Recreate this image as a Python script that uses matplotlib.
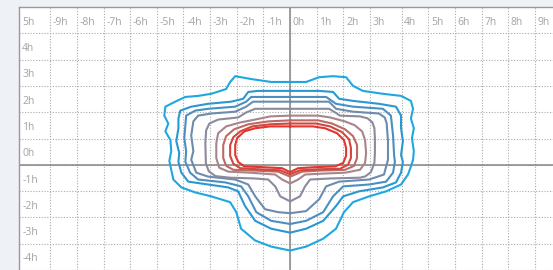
import matplotlib
matplotlib.use("Agg")
import matplotlib.pyplot as plt

# grid ticks (hours) and their labels
x_ticks = [-9, -8, -7, -6, -5, -4, -3, -2, -1, 0, 1, 2, 3, 4.18, 5.18, 6.18, 7.18, 8.18, 9.18]
x_labels = ["-9h", "-8h", "-7h", "-6h", "-5h", "-4h", "-3h", "-2h", "-1h",
            "0h", "1h", "2h", "3h", "4h", "5h", "6h", "7h", "8h", "9h"]
y_ticks = [5, 4, 3, 2, 1, 0, -1, -2, -3, -4]
y_labels = ["5h", "4h", "3h", "2h", "1h", "0h", "-1h", "-2h", "-3h", "-4h"]

# contour levels, outer to inner (x, y in hours)
level_1 = [(0, 3.15), (0.60, 3.15), (1.09, 3.33), (1.61, 3.37), (2.10, 3.33), (2.36, 3.00),
           (2.73, 2.81), (3.48, 2.70), (4.16, 2.62), (4.53, 2.43), (4.61, 2.13), (4.53, 1.76),
           (4.64, 1.39), (4.57, 1.01), (4.64, 0.52), (4.61, 0.19), (4.53, -0.07), (4.42, -0.37),
           (4.16, -0.75), (3.60, -1.01), (2.96, -1.20), (2.36, -1.42), (2.02, -1.80), (1.72, -2.43),
           (1.24, -2.81), (0.60, -3.11), (0, -3.26), (-0.71, -3.11), (-1.31, -2.88), (-1.84, -2.43),
           (-2.02, -1.80), (-2.25, -1.42), (-2.96, -1.20), (-3.56, -1.05), (-4.08, -0.86),
           (-4.38, -0.56), (-4.46, -0.19), (-4.53, 0.15), (-4.46, 0.52), (-4.49, 0.94),
           (-4.68, 1.27), (-4.57, 1.57), (-4.72, 1.87), (-4.68, 2.21), (-4.31, 2.40), (-3.93, 2.58),
           (-3.45, 2.62), (-2.96, 2.70), (-2.40, 2.88), (-2.25, 3.15), (-2.06, 3.37), (-1.46, 3.26),
           (-0.71, 3.15)]
level_2 = [(0, 2.81), (1.09, 2.81), (1.61, 2.77), (1.84, 2.51), (2.36, 2.43), (3.33, 2.32),
           (3.97, 2.21), (4.16, 1.87), (4.16, 1.39), (4.23, 0.90), (4.16, 0.37), (4.23, 0.11),
           (4.16, -0.30), (3.97, -0.67), (3.48, -0.86), (2.58, -1.01), (1.99, -1.20), (1.72, -1.57),
           (1.24, -2.13), (0.60, -2.43), (0, -2.58), (-0.71, -2.43), (-1.31, -2.13), (-1.69, -1.57),
           (-1.95, -1.01), (-2.32, -0.86), (-3.07, -0.75), (-3.82, -0.64), (-4.08, -0.30),
           (-4.19, 0.11), (-4.16, 0.45), (-4.27, 0.90), (-4.19, 1.39), (-4.19, 1.76), (-4.12, 2.06),
           (-3.71, 2.21), (-3.07, 2.32), (-2.21, 2.40), (-1.76, 2.51), (-1.57, 2.77), (-1.20, 2.81)]
level_3 = [(0, 2.58), (1.35, 2.58), (1.72, 2.32), (2.36, 2.21), (3.48, 2.13), (3.78, 1.87),
           (3.86, 1.12), (3.90, 0.37), (3.93, 0.11), (3.86, -0.30), (3.60, -0.64), (2.96, -0.75),
           (1.99, -0.82), (1.61, -1.20), (1.24, -1.80), (0.60, -2.13), (0, -2.25), (-0.71, -2.13),
           (-1.27, -1.80), (-1.57, -1.20), (-1.84, -0.82), (-2.43, -0.67), (-3.45, -0.56),
           (-3.75, -0.30), (-3.93, 0.11), (-3.90, 0.52), (-3.97, 1.01), (-3.93, 1.50), (-3.90, 1.87),
           (-3.56, 2.06), (-3.07, 2.13), (-2.06, 2.21), (-1.65, 2.40), (-1.46, 2.58)]
level_4 = [(0, 2.40), (1.46, 2.40), (1.72, 2.13), (2.36, 2.02), (3.33, 1.95), (3.55, 1.80),
           (3.62, 1.58), (3.67, 0.90), (3.67, 0.19), (3.52, -0.37), (2.96, -0.56), (1.84, -0.64),
           (1.35, -0.82), (1.09, -1.31), (0.60, -1.76), (0, -1.84), (-0.45, -1.80), (-0.94, -1.69),
           (-1.31, -1.20), (-1.57, -0.75), (-2.06, -0.56), (-3.07, -0.45), (-3.52, -0.30),
           (-3.71, 0.19), (-3.63, 0.52), (-3.71, 1.12), (-3.63, 1.65), (-3.45, 1.87), (-2.96, 1.95),
           (-2.06, 2.02), (-1.65, 2.21), (-1.39, 2.40)]
level_5 = [(0, 2.13), (1.46, 2.13), (1.69, 1.99), (1.87, 1.87), (2.62, 1.84), (2.90, 1.77),
           (3.08, 1.62), (3.16, 1.40), (3.18, 1.01), (3.18, 0.45), (3.16, 0.07), (3.03, -0.28),
           (2.82, -0.44), (2.62, -0.49), (1.50, -0.52), (0.75, -0.56), (0.56, -0.82), (0.37, -1.20),
           (0, -1.39), (-0.37, -1.20), (-0.56, -0.82), (-0.82, -0.56), (-1.31, -0.52), (-2.25, -0.49),
           (-2.80, -0.43), (-3.05, -0.25), (-3.16, 0.05), (-3.18, 0.82), (-3.15, 1.31), (-3.03, 1.57),
           (-2.70, 1.72), (-1.95, 1.80), (-1.65, 1.99), (-1.31, 2.13), (-0.75, 2.13)]
level_6 = [(0, 1.87), (1.05, 1.87), (1.50, 1.80), (2.06, 1.65), (2.43, 1.50), (2.70, 1.27),
           (2.81, 0.94), (2.85, 0.45), (2.81, 0.07), (2.62, -0.19), (2.06, -0.30), (1.12, -0.34),
           (0.56, -0.37), (0.30, -0.56), (0, -0.71), (-0.30, -0.56), (-0.56, -0.37), (-1.50, -0.30),
           (-2.32, -0.26), (-2.66, -0.11), (-2.77, 0.26), (-2.77, 0.82), (-2.70, 1.20),
           (-2.40, 1.46), (-1.87, 1.61), (-1.31, 1.72), (-0.75, 1.84)]
level_7 = [(0, 1.69), (1.05, 1.69), (1.57, 1.57), (2.06, 1.35), (2.36, 1.09), (2.51, 0.75),
           (2.51, 0.26), (2.40, -0.04), (2.06, -0.19), (1.12, -0.22), (0.45, -0.26), (0, -0.45),
           (-0.45, -0.26), (-1.31, -0.22), (-2.13, -0.19), (-2.40, -0.04), (-2.51, 0.26),
           (-2.51, 0.75), (-2.40, 1.09), (-2.10, 1.35), (-1.57, 1.54), (-0.82, 1.65)]
level_8 = [(0, 1.57), (0.97, 1.57), (1.50, 1.46), (1.95, 1.24), (2.21, 0.97), (2.28, 0.64),
           (2.28, 0.26), (2.17, 0), (1.87, -0.15), (1.05, -0.17), (0.37, -0.21), (0, -0.36),
           (-0.37, -0.21), (-1.20, -0.17), (-1.87, -0.13), (-2.13, 0.04), (-2.25, 0.34),
           (-2.25, 0.75), (-2.13, 1.05), (-1.87, 1.27), (-1.42, 1.46), (-0.75, 1.54)]
level_9 = [(0, 1.46), (0.86, 1.46), (1.31, 1.39), (1.76, 1.20), (2.02, 0.94), (2.10, 0.64),
           (2.10, 0.34), (1.99, 0.07), (1.69, -0.06), (0.94, -0.09), (0.30, -0.13), (0, -0.28),
           (-0.30, -0.13), (-1.05, -0.09), (-1.72, -0.06), (-1.95, 0.11), (-2.06, 0.37),
           (-2.06, 0.75), (-1.99, 1.01), (-1.72, 1.27), (-1.31, 1.39), (-0.75, 1.46)]
levels = [level_1, level_2, level_3, level_4, level_5, level_6, level_7, level_8, level_9]
level_colors = ["#1fa8e0", "#2a98d0", "#4a8fc2", "#6b8cae", "#8c8a9e",
                "#a8858a", "#bc6a64", "#d2463e", "#e1352e"]

fig = plt.figure(figsize=(5.53, 2.70), dpi=100)
fig.patch.set_facecolor("#eef1f6")
ax = fig.add_axes([19 / 553, 0, 534 / 553, 263 / 270])
ax.set_facecolor("white")
ax.set_xlim(-10.17, 9.86)
ax.set_ylim(-3.87, 6.0)

ax.set_xticks(x_ticks)
ax.set_yticks(y_ticks)
ax.tick_params(length=0, labelbottom=False, labelleft=False)
ax.grid(True, color="#aaaaaa", linestyle=(0, (1, 1.5)), linewidth=0.8)
ax.set_axisbelow(True)

for side in ["right", "bottom"]:
    ax.spines[side].set_visible(False)
for side in ["left", "top"]:
    ax.spines[side].set_color("#9a9a9a")
    ax.spines[side].set_linewidth(1.0)

ax.axhline(0, color="#858585", linewidth=1.1, zorder=2)
ax.axvline(0, color="#858585", linewidth=1.1, zorder=2)

for pts, col in zip(levels, level_colors):
    xs = [p[0] for p in pts] + [pts[0][0]]
    ys = [p[1] for p in pts] + [pts[0][1]]
    ax.plot(xs, ys, color=col, linewidth=1.5, solid_joinstyle="round", zorder=3)

label_style = dict(fontsize=7.5, color="#a3a3a3", family=["Open Sans", "DejaVu Sans"],
                   va="center", ha="left", zorder=4)
for x, lab in zip(x_ticks, x_labels):
    ax.text(x + 0.1, 5.42, lab, **label_style)
for y, lab in zip(y_ticks, y_labels):
    ax.text(-10.05, y + 0.42, lab, **label_style)

fig.savefig("out.png", dpi=100)
plt.close(fig)
